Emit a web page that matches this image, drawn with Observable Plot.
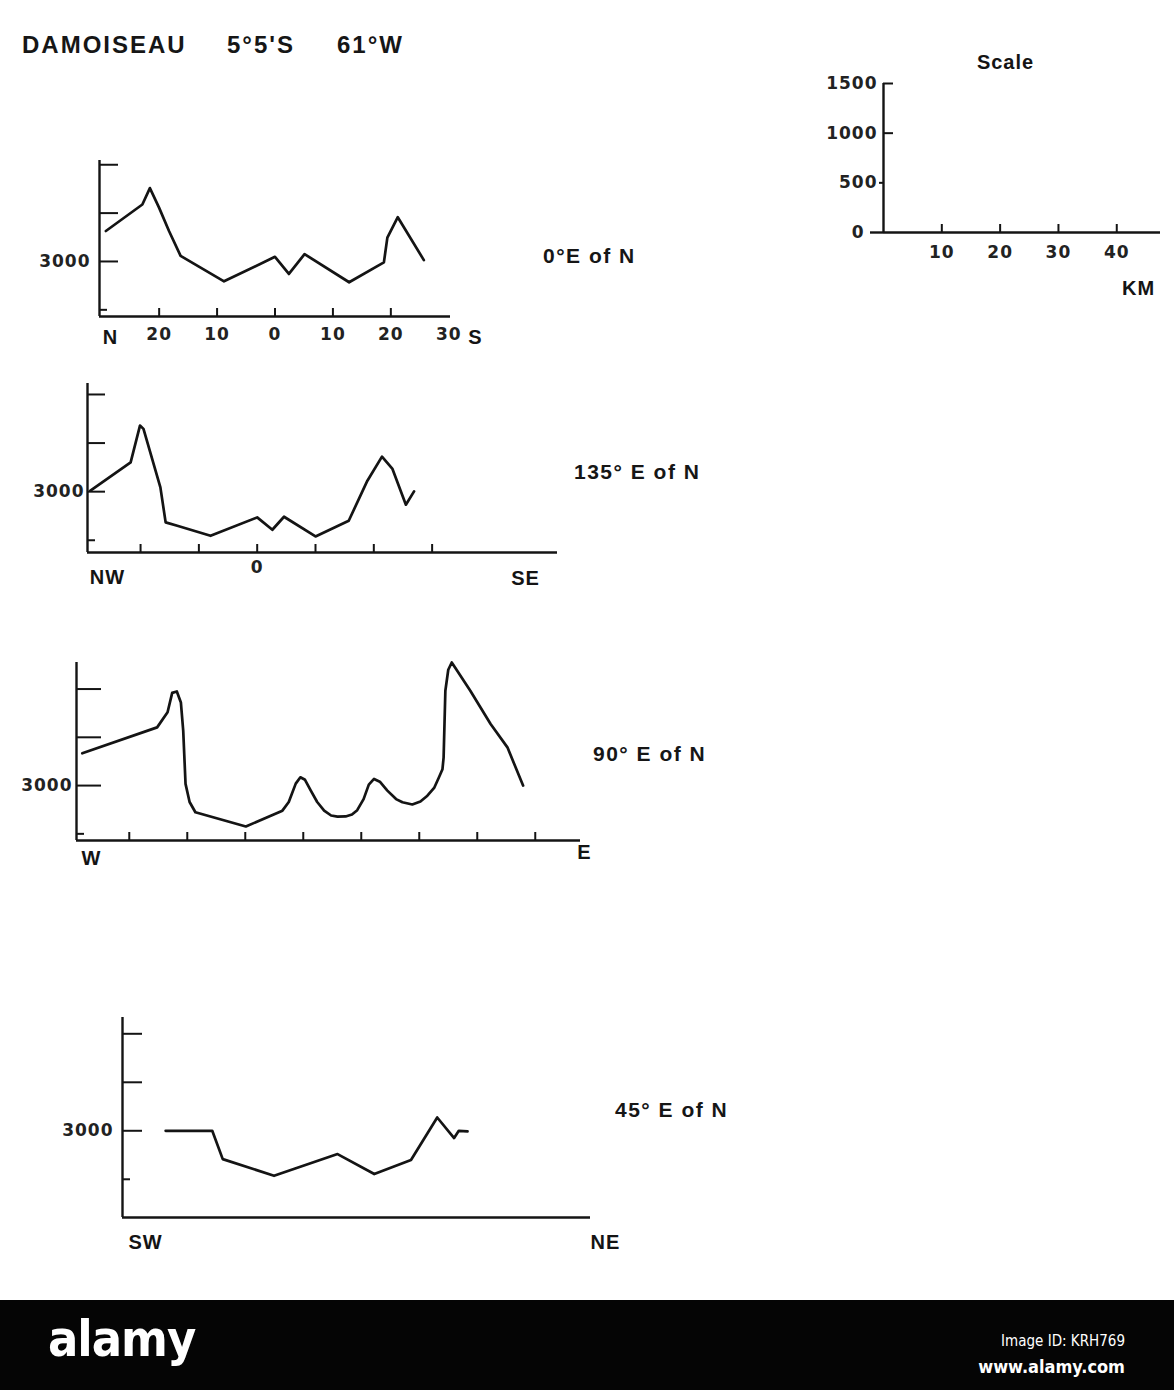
<!DOCTYPE html>
<html><head><meta charset="utf-8">
<script src="https://cdn.jsdelivr.net/npm/d3@7"></script>
<script src="https://cdn.jsdelivr.net/npm/@observablehq/plot@0.6"></script>
<style>
html,body{margin:0;padding:0;background:#fff;}
#page{position:relative;width:1174px;height:1390px;background:#fff;overflow:hidden;font-family:'Liberation Sans',Arial,sans-serif;color:#161616;}
.txt{position:absolute;font-weight:bold;line-height:1;white-space:pre;color:#161616;}
.title{font-size:24px;letter-spacing:2px;}
.head{font-size:21px;letter-spacing:1.5px;}
.plot{position:absolute;}
#foot{position:absolute;left:0;top:1300px;width:1174px;height:90px;background:#050505;color:#fff;}
#logo{position:absolute;left:48px;top:14px;font:bold 50px 'Liberation Sans Narrow','DejaVu Sans Condensed',sans-serif;letter-spacing:-1px;line-height:1;}
#imgid{position:absolute;right:49px;top:32px;font:15px 'Liberation Sans Narrow','DejaVu Sans Condensed',sans-serif;}
#www{position:absolute;right:49px;top:56px;font:bold 18px 'Liberation Sans Narrow','DejaVu Sans Condensed',sans-serif;}
</style></head><body><div id="page"></div>
<script>
// ---------- data ----------
const titleParts = ["DAMOISEAU", "5°5'S", "61°W"];
const azimuthLabels = ["0°E of N", "135° E of N", "90° E of N", "45° E of N"];

// 0° E of N profile (km from centre, elevation m)
const dist0 = [-29.2, -22.9, -21.6, -20.0, -18.3, -16.3, -8.8, 0, 2.4, 5.1, 12.8, 18.8, 19.4, 21.2, 25.7];
const elev0 = [3315, 3589, 3759, 3554, 3315, 3058, 2795, 3048, 2871, 3076, 2785, 2990, 3246, 3458, 3014];

// 135° E of N profile
const dist135 = [-28.6, -21.7, -20.1, -19.5, -16.6, -15.7, -13.7, -8.0, 0, 2.6, 4.6, 10.0, 15.7, 18.9, 21.4, 23.2, 25.5, 26.9];
const elev135 = [3010, 3302, 3680, 3646, 3044, 2684, 2649, 2546, 2735, 2608, 2742, 2539, 2701, 3113, 3361, 3234, 2866, 3003];

// 90° E of N profile
const dist90 = [-38.1, -25.2, -23.4, -22.6, -21.8, -21.1, -20.7, -20.3, -19.6, -18.6, -9.9, -3.6, -2.5, -1.3, -0.5, 0.3, 1.3, 2.4, 3.6, 4.8, 5.9, 7.3, 8.4, 9.3, 10.4, 11.3, 12.2, 13.2, 14.5, 16.0, 17.1, 18.8, 20.2, 21.4, 22.6, 23.4, 24.0, 24.2, 24.5, 25.0, 25.6, 26.2, 28.8, 32.3, 35.2, 37.9];
const elev90 = [3334, 3603, 3760, 3960, 3975, 3860, 3569, 3018, 2830, 2724, 2576, 2740, 2830, 3020, 3086, 3060, 2948, 2830, 2741, 2690, 2679, 2680, 2700, 2745, 2860, 3010, 3069, 3040, 2948, 2860, 2827, 2804, 2835, 2895, 2980, 3086, 3170, 3293, 3982, 4200, 4275, 4220, 3982, 3638, 3396, 3000];

// 45° E of N profile
const dist45 = [7.4, 15.4, 17.2, 26.0, 36.9, 43.2, 49.5, 54.0, 56.9, 57.7, 59.2];
const elev45 = [3000, 3000, 2708, 2536, 2760, 2554, 2698, 3137, 2925, 3000, 2993];

// ticks and labels
const elevTicksLong = [3000, 3500, 4000];
const elevTicksShort = [2500];
const elevLabels = [3000];
const kmTicks0 = [-20, -10, 0, 10, 20];
const kmLabels0 = [-20, -10, 0, 10, 20, 30];
const kmTicks135 = [-20, -10, 0, 10, 20, 30];
const kmLabels135 = [0];
const kmTicks90 = [-30, -20, -10, 0, 10, 20, 30, 40];
const ends0 = ["N", "S"];
const ends135 = ["NW", "SE"];
const ends90 = ["W", "E"];
const ends45 = ["SW", "NE"];

const scaleTitle = "Scale";
const scaleUnit = "KM";
const scaleElevRight = [1000, 1500];
const scaleElevLeftShort = [500];
const scaleElevLeftLong = [0];
const scaleElevLabels = [500, 1000, 1500];
const scaleElevZero = [0];
const scaleKm = [10, 20, 30, 40];

// ---------- drawing ----------
const ink = "#141414";
const page = document.getElementById("page");
const numFont = {fontSize: 17, fontFamily: "DejaVu Sans", fontWeight: "bold", fill: "#222"};
const letFont = {fontSize: 20, fontFamily: "Liberation Sans, Arial, sans-serif", fontWeight: "bold", fill: ink};

function addText(str, cls, left, top) {
  const d = document.createElement("div");
  d.className = "txt " + cls;
  d.style.left = left + "px";
  d.style.top = top + "px";
  d.textContent = str;
  page.appendChild(d);
}

addText(titleParts[0], "title", 22, 33);
addText(titleParts[1], "title", 227, 33);
addText(titleParts[2], "title", 337, 33);
addText(azimuthLabels[0], "head", 543, 245);
addText(azimuthLabels[1], "head", 574, 461);
addText(azimuthLabels[2], "head", 593, 743);
addText(azimuthLabels[3], "head", 615, 1099);

function profile(cfg) {
  const [l, t, r, b] = cfg.frame;
  const W = r - l, H = b - t;
  const tl = cfg.tickLen || 18;
  const pts = cfg.dist.map((d, i) => ({d, e: cfg.elev[i]}));
  const marks = [
    Plot.ruleX([cfg.xDomain[0]], {stroke: ink, strokeWidth: 2.4}),
    Plot.ruleY([cfg.yDomain[0]], {stroke: ink, strokeWidth: 2.4}),
    Plot.tickY(elevTicksLong, {y: d => d, stroke: ink, strokeWidth: 2, insetRight: W - tl}),
    Plot.tickY(elevTicksShort, {y: d => d, stroke: ink, strokeWidth: 2, insetRight: W - 8}),
    Plot.axisY({ticks: elevLabels, anchor: "left", tickSize: 0, tickPadding: cfg.yPad, tickFormat: d => String(d), label: null, ...numFont})
  ];
  if (cfg.xTicks) marks.push(Plot.tickX(cfg.xTicks, {x: d => d, stroke: ink, strokeWidth: 2, insetTop: H - 8}));
  if (cfg.xLabels) marks.push(Plot.axisX({ticks: cfg.xLabels, anchor: "bottom", tickSize: 0, tickPadding: cfg.xPad, tickFormat: d => String(Math.abs(d)), label: null, ...numFont}));
  marks.push(Plot.text([cfg.ends[0]], {text: d => d, frameAnchor: "bottom-left", dx: cfg.endOff[0], dy: cfg.endOff[1], lineAnchor: "middle", textAnchor: "middle", ...letFont}));
  marks.push(Plot.text([cfg.ends[1]], {text: d => d, frameAnchor: "bottom-right", dx: cfg.endOff[2], dy: cfg.endOff[3], lineAnchor: "middle", textAnchor: "middle", ...letFont}));
  marks.push(Plot.line(pts, {x: "d", y: "e", stroke: ink, strokeWidth: 2.7, strokeLinejoin: "round", strokeLinecap: "round"}));
  const p = Plot.plot({
    width: cfg.svg[2], height: cfg.svg[3],
    marginLeft: l - cfg.svg[0], marginTop: t - cfg.svg[1],
    marginRight: cfg.svg[0] + cfg.svg[2] - r, marginBottom: cfg.svg[1] + cfg.svg[3] - b,
    x: {domain: cfg.xDomain, axis: null},
    y: {domain: cfg.yDomain, axis: null},
    style: {background: "transparent", overflow: "visible", letterSpacing: "1px"},
    marks
  });
  p.classList.add("plot");
  p.style.left = cfg.svg[0] + "px";
  p.style.top = cfg.svg[1] + "px";
  page.appendChild(p);
}

profile({svg: [0, 140, 520, 220], frame: [99, 160, 450, 316], xDomain: [-30.3, 30.3], yDomain: [2431, 4044],
  dist: dist0, elev: elev0, yPad: 9, xTicks: kmTicks0, xLabels: kmLabels0, xPad: 11, ends: ends0, endOff: [11, 21, 25, 21], tickLen: 19});
profile({svg: [0, 370, 600, 230], frame: [87, 383, 557, 552], xDomain: [-29.1, 51.5], yDomain: [2374, 4113],
  dist: dist135, elev: elev135, yPad: 3, xTicks: kmTicks135, xLabels: kmLabels135, xPad: 8, ends: ends135, endOff: [20, 25, -32, 26], tickLen: 18});
profile({svg: [0, 640, 620, 250], frame: [76, 662, 580, 840], xDomain: [-39.1, 47.8], yDomain: [2431, 4275],
  dist: dist90, elev: elev90, yPad: 4, xTicks: kmTicks90, ends: ends90, endOff: [15, 18, 4, 12], tickLen: 25});
profile({svg: [0, 1000, 660, 270], frame: [122, 1017, 590, 1217], xDomain: [0, 80.3], yDomain: [2106, 4168],
  dist: dist45, elev: elev45, yPad: 9, ends: ends45, endOff: [23, 25, 15, 25], tickLen: 20});

// Scale panel
(function () {
  const svg = [780, 40, 394, 270];
  const [l, t, r, b] = [883, 83, 1160, 232];
  const W = r - l, H = b - t;
  const p = Plot.plot({
    width: svg[2], height: svg[3],
    marginLeft: l - svg[0], marginTop: t - svg[1], marginRight: svg[0] + svg[2] - r, marginBottom: svg[1] + svg[3] - b,
    x: {domain: [0, 47.5], axis: null},
    y: {domain: [0, 1500], axis: null},
    style: {background: "transparent", overflow: "visible", letterSpacing: "1px"},
    marks: [
      Plot.ruleX([0], {stroke: ink, strokeWidth: 2.4}),
      Plot.ruleY([0], {stroke: ink, strokeWidth: 2.4}),
      Plot.tickY(scaleElevRight, {y: d => d, stroke: ink, strokeWidth: 2, insetRight: W - 10}),
      Plot.tickY(scaleElevLeftShort, {y: d => d, stroke: ink, strokeWidth: 2, insetRight: W - 4, dx: -4}),
      Plot.tickY(scaleElevLeftLong, {y: d => d, stroke: ink, strokeWidth: 2.4, insetRight: W - 13, dx: -13}),
      Plot.tickX(scaleKm, {x: d => d, stroke: ink, strokeWidth: 2, insetTop: H - 8}),
      Plot.axisY({ticks: scaleElevLabels, anchor: "left", tickSize: 0, tickPadding: 6, tickFormat: d => String(d), label: null, ...numFont}),
      Plot.axisY({ticks: scaleElevZero, anchor: "left", tickSize: 0, tickPadding: 19, tickFormat: d => String(d), label: null, ...numFont}),
      Plot.axisX({ticks: scaleKm, anchor: "bottom", tickSize: 0, tickPadding: 13, tickFormat: d => String(d), label: null, ...numFont}),
      Plot.text([scaleTitle], {text: d => d, frameAnchor: "top-left", dx: 122, dy: -21, lineAnchor: "middle", textAnchor: "middle", ...letFont}),
      Plot.text([scaleUnit], {text: d => d, frameAnchor: "bottom-right", dx: -22, dy: 56, lineAnchor: "middle", textAnchor: "middle", ...letFont})
    ]
  });
  p.classList.add("plot");
  p.style.left = svg[0] + "px";
  p.style.top = svg[1] + "px";
  page.appendChild(p);
})();

// footer bar of the source picture
const foot = document.createElement("div");
foot.id = "foot";
foot.innerHTML = '<div id="logo">alamy</div><div id="imgid">Image ID: KRH769</div><div id="www">www.alamy.com</div>';
page.appendChild(foot);
</script></body></html>
